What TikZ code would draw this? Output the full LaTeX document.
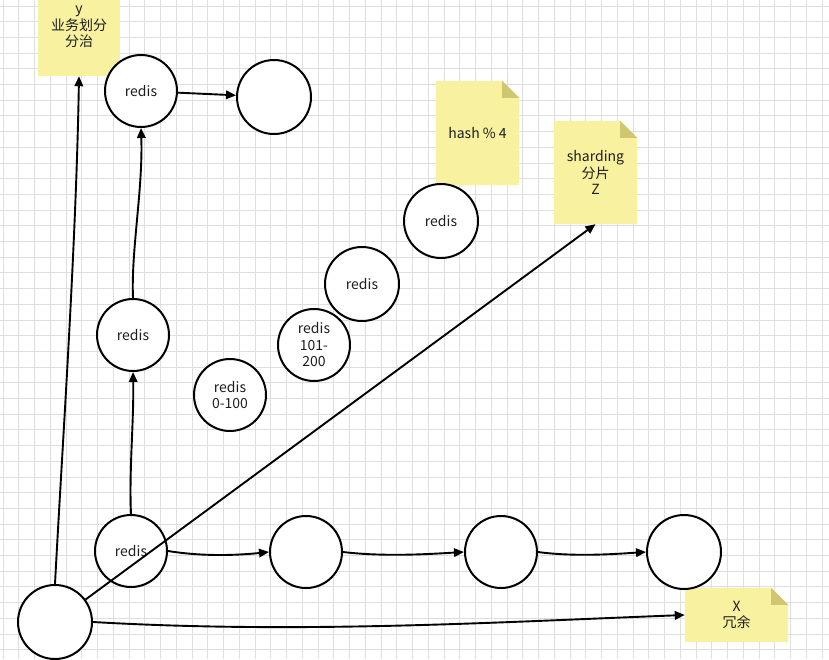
\documentclass[tikz,border=0pt]{standalone}
\usepackage{fontspec}
\setmainfont{Noto Sans CJK SC}
\usetikzlibrary{arrows.meta,calc}
\definecolor{gridc}{RGB}{222,222,222}
\definecolor{notec}{RGB}{248,241,160}
\definecolor{foldc}{RGB}{207,198,112}
\definecolor{txtc}{RGB}{30,30,30}
\newcommand\foldnote[1]{%
  \fill[notec] (#1.north west) -- ([xshift=-17pt]#1.north east) -- ([yshift=-17pt]#1.north east) -- (#1.south east) -- (#1.south west) -- cycle;
  \fill[foldc] ([xshift=-17pt]#1.north east) -- ([xshift=-17pt,yshift=-17pt]#1.north east) -- ([yshift=-17pt]#1.north east) -- cycle;}
\begin{document}
\begin{tikzpicture}[x=1pt,y=-1pt,
  rc/.style={circle,draw=black,line width=2pt,fill=white,minimum size=72pt,inner sep=0pt,align=center,text=txtc,font=\fontsize{14}{16.5}\selectfont},
  lnk/.style={line width=1.9pt,-{Triangle[length=10pt,width=8.5pt]}},
  notebox/.style={draw=none,inner sep=0pt,align=center},
  notetext/.style={inner sep=0pt,align=center,text=txtc,font=\fontsize{14}{16.5}\selectfont}]
\useasboundingbox (0,0) rectangle (829,659);
\fill[white] (0,0) rectangle (829,659);
\foreach \i in {0,...,52} \draw[gridc,line width=0.9pt] (3+15.75*\i,0) -- (3+15.75*\i,659);
\foreach \i in {0,...,41} \draw[gridc,line width=0.9pt] (0,6+15.7*\i) -- (829,6+15.7*\i);

% notes
\node[notebox,minimum width=82pt,minimum height=76pt] (ny) at (79,38) {};
\fill[notec] (ny.north west) rectangle (ny.south east);
\node[notetext] (nyt) at (79,27) {y\\业务划分\\分治};

\node[notebox,minimum width=83pt,minimum height=104pt] (nh) at (477.5,133) {};
\foldnote{nh}
\node[notetext] at (nh) {hash \% 4};

\node[notebox,minimum width=83pt,minimum height=103pt] (nz) at (595.5,172.5) {};
\foldnote{nz}
\node[notetext] at (nz) {sharding\\分片\\Z};

\node[notebox,minimum width=103pt,minimum height=54pt] (nx) at (736.5,615) {};
\foldnote{nx}
\node[notetext] at (nx) {X\\冗余};

% circles
\node[rc] (t) at (141,91) {redis};
\node[rc,minimum size=74pt] (te) at (274,97) {};
\node[rc] (m) at (133,335) {redis};
\node[rc] (b) at (131,551) {redis};
\node[rc,minimum size=74pt] (o) at (55,622) {};
\node[rc] (c1) at (306,552) {};
\node[rc] (c2) at (501,552) {};
\node[rc,minimum size=74pt] (c3) at (684,552) {};
\node[rc] (r1) at (230,395) {redis\\0-100};
\node[rc] (r2) at (314,345) {redis\\101-\\200};
\node[rc,minimum size=74pt] (r3) at (362,284) {redis};
\node[rc,minimum size=74pt] (r4) at (441,221) {redis};

% connectors
\draw[lnk] (t) -- (te);
\draw[lnk] (m.north) .. controls (131,250) and (143,190) .. (t.south);
\draw[lnk] (b.north) .. controls (129,470) and (134,420) .. (m.south);
\draw[lnk] (o.north) .. controls (62,450) and (76,250) .. (ny.south);
\draw[lnk] (o) -- (nz.south);
\draw[lnk] (o.east) .. controls (300,634) and (500,622) .. (nx.west);
\draw[lnk] (b.east) .. controls (205,557) and (240,555) .. (c1.west);
\draw[lnk] (c1.east) .. controls (385,557) and (430,554) .. (c2.west);
\draw[lnk] (c2.east) .. controls (575,557) and (615,554) .. (c3.west);
\end{tikzpicture}
\end{document}
